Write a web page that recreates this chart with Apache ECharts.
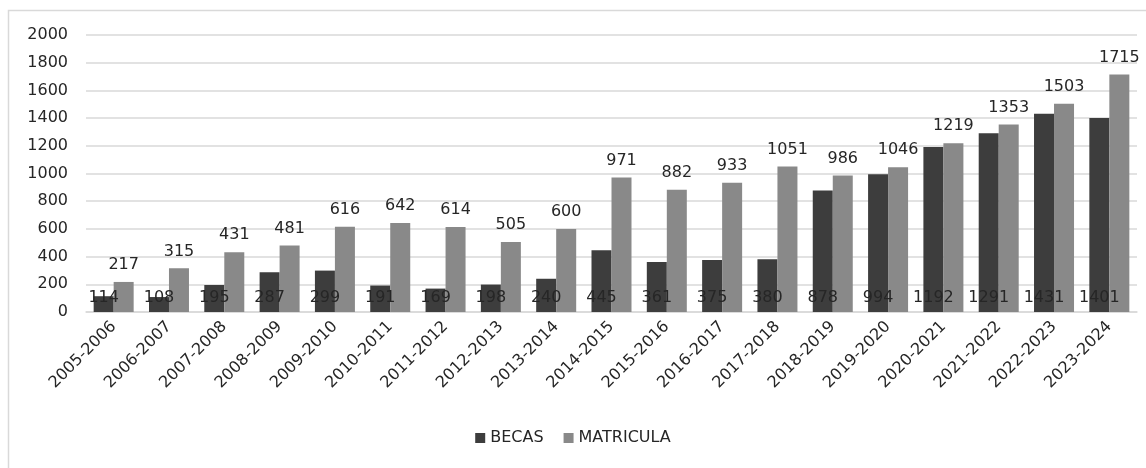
<!DOCTYPE html>
<html><head><meta charset="utf-8">
<script src="https://cdn.jsdelivr.net/npm/echarts@6/dist/echarts.min.js"></script>
<style>html,body{margin:0;padding:0;background:#fff}#c{width:1146px;height:468px}</style>
</head><body><div id="c"></div>
<script>
const categories = ['2005-2006','2006-2007','2007-2008','2008-2009','2009-2010','2010-2011','2011-2012','2012-2013','2013-2014','2014-2015','2015-2016','2016-2017','2017-2018','2018-2019','2019-2020','2020-2021','2021-2022','2022-2023','2023-2024'];
const becas = [114,108,195,287,299,191,169,198,240,445,361,375,380,878,994,1192,1291,1431,1401];
const matricula = [217,315,431,481,616,642,614,505,600,971,882,933,1051,986,1046,1219,1353,1503,1715];
const yTicks = {min:0, max:2000, interval:200};

const font = 'DejaVu Sans';
const chart = echarts.init(document.getElementById('c'), null, {renderer:'canvas'});
chart.setOption({
  animation:false,
  backgroundColor:'#fff',
  textStyle:{fontFamily:font},
  graphic:[{type:'rect', shape:{x:8.5,y:10.5,width:1200,height:600}, style:{fill:'none', stroke:'#d9d9d9', lineWidth:1.5}, silent:true, z:-1}],
  grid:{left:86, right:9, top:35, bottom:156},
  legend:{bottom:17, left:'center', itemWidth:10, itemHeight:10, itemGap:20, icon:'rect',
    textStyle:{fontFamily:font, fontSize:16, color:'#262626'},
    data:['BECAS','MATRICULA']},
  xAxis:{type:'category', data:categories,
    axisLine:{lineStyle:{color:'#d9d9d9', width:1.5}}, axisTick:{show:false},
    axisLabel:{rotate:45, interval:0, margin:12, fontFamily:font, fontSize:16, color:'#262626'}},
  yAxis:{type:'value', min:yTicks.min, max:yTicks.max, interval:yTicks.interval,
    axisLine:{show:false}, axisTick:{show:false},
    axisLabel:{margin:18, fontFamily:font, fontSize:16, color:'#262626', formatter:v=>String(v)},
    splitLine:{lineStyle:{color:'#d9d9d9', width:1.5}}},
  series:[
    {name:'BECAS', type:'bar', data:becas, barWidth:20, barGap:'0%',
     itemStyle:{color:'#3d3d3d'},
     label:{show:true, position:'insideBottom', distance:6, fontFamily:font, fontSize:16, color:'#262626'}},
    {name:'MATRICULA', type:'bar', data:matricula, barWidth:20,
     itemStyle:{color:'#898989'},
     label:{show:true, position:'top', distance:9, fontFamily:font, fontSize:16, color:'#262626'}}
  ]
});
</script></body></html>
